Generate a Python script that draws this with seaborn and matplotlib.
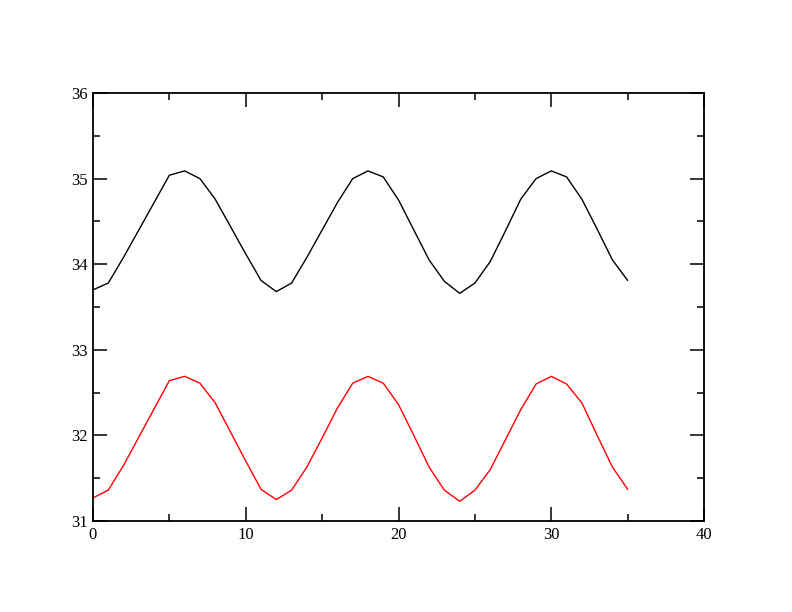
import numpy as np
import pandas as pd
import matplotlib
matplotlib.use('Agg')
import matplotlib.pyplot as plt
from matplotlib.ticker import MultipleLocator
import seaborn as sns

# data
x = list(range(36))
upper = [33.70, 33.78, 34.08, 34.40, 34.72, 35.04, 35.09, 35.00, 34.76, 34.44,
         34.12, 33.81, 33.68, 33.78, 34.08, 34.40, 34.72, 35.00, 35.09, 35.02,
         34.75, 34.40, 34.05, 33.80, 33.66, 33.78, 34.03, 34.39, 34.76, 35.00,
         35.09, 35.02, 34.76, 34.41, 34.05, 33.81]
lower = [31.27, 31.36, 31.65, 31.98, 32.31, 32.64, 32.69, 32.61, 32.38, 32.04,
         31.70, 31.37, 31.25, 31.36, 31.63, 31.97, 32.32, 32.61, 32.69, 32.61,
         32.36, 32.00, 31.63, 31.36, 31.23, 31.36, 31.60, 31.95, 32.30, 32.60,
         32.69, 32.60, 32.38, 32.00, 31.63, 31.37]
x_ticks = [0, 10, 20, 30, 40]
y_ticks = [31, 32, 33, 34, 35, 36]

df = pd.DataFrame({
    'x': x + x,
    'y': upper + lower,
    'set': ['s0'] * len(x) + ['s1'] * len(x),
})

sns.set_style('ticks')
plt.rcParams['font.family'] = ['Liberation Serif', 'DejaVu Serif']

fig = plt.figure(figsize=(7.92, 6.12), dpi=100)
ax = fig.add_axes([0.1174, 0.1487, 0.7716, 0.6993])

sns.lineplot(data=df, x='x', y='y', hue='set', palette=['black', 'red'],
             linewidth=1, legend=False, ax=ax)

ax.set_xlim(0, 40)
ax.set_ylim(31, 36)
ax.set_xticks(x_ticks)
ax.set_yticks(y_ticks)
ax.xaxis.set_minor_locator(MultipleLocator(5))
ax.yaxis.set_minor_locator(MultipleLocator(0.5))
ax.set_xlabel('')
ax.set_ylabel('')

for s in ax.spines.values():
    s.set_linewidth(1.3)
    s.set_color('black')
ax.tick_params(which='both', direction='in', top=True, right=True,
               color='black', width=1.1, labelsize=12, labelcolor='black')
ax.tick_params(which='major', length=10, pad=4)
ax.tick_params(which='minor', length=5)

fig.savefig('out.png', dpi=100, facecolor='white')
